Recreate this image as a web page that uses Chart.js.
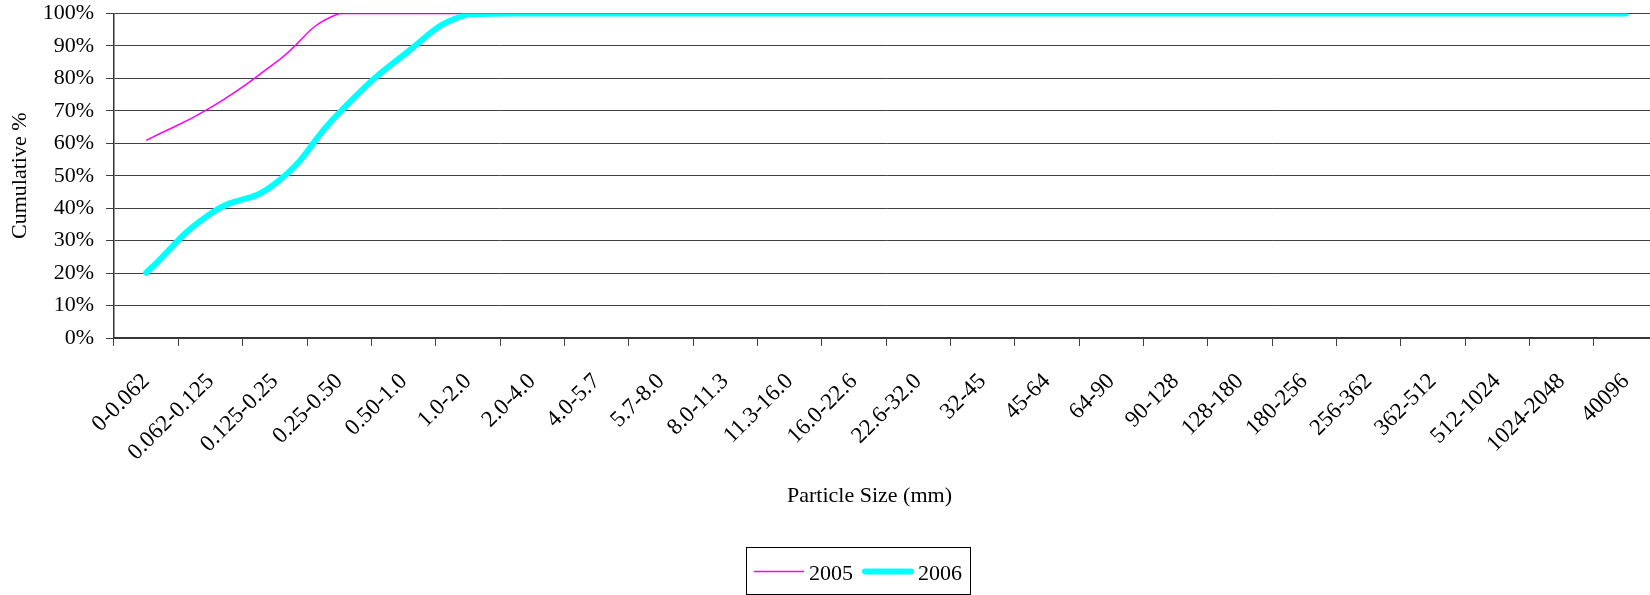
<!DOCTYPE html>
<html><head><meta charset="utf-8">
<script src="https://cdn.jsdelivr.net/npm/chart.js@4.4.1/dist/chart.umd.min.js"></script>
<style>
html,body{margin:0;padding:0;background:#fff;overflow:hidden;width:1650px;height:595px;}
#wrap{position:absolute;left:0;top:0;width:1658px;height:595px;}
</style></head><body>
<div id="wrap"><canvas id="c"></canvas></div>
<script>
const categories = ['0-0.062','0.062-0.125','0.125-0.25','0.25-0.50','0.50-1.0','1.0-2.0','2.0-4.0','4.0-5.7','5.7-8.0','8.0-11.3','11.3-16.0','16.0-22.6','22.6-32.0','32-45','45-64','64-90','90-128','128-180','180-256','256-362','362-512','512-1024','1024-2048','40096'];
const series2005 = [60.9, 71.0, 84.7, 100, 100, 100, 100, 100, 100, 100, 100, 100, 100, 100, 100, 100, 100, 100, 100, 100, 100, 100, 100, 100];
const series2006 = [20.1, 38.3, 47.5, 69.4, 87.2, 99.8, 100, 100, 100, 100, 100, 100, 100, 100, 100, 100, 100, 100, 100, 100, 100, 100, 100, 100];
const seriesNames = ['2005', '2006'];
const yTickLabels = ['0%','10%','20%','30%','40%','50%','60%','70%','80%','90%','100%'];
const xTitle = 'Particle Size (mm)';
const yTitle = 'Cumulative %';

const FONT = "'Liberation Serif', 'Times New Roman', serif";
Chart.defaults.font.family = FONT;
Chart.defaults.font.size = 22;
Chart.defaults.color = '#000';

const boxLegend = {
  id: 'boxLegend',
  afterDraw(chart) {
    const ctx = chart.ctx;
    ctx.save();
    ctx.strokeStyle = '#000';
    ctx.lineWidth = 1;
    ctx.strokeRect(746.5, 547.5, 224, 47);
    const items = [
      { x0: 754, x1: 804, tx: 809 },
      { x0: 865, x1: 911, tx: 918 }
    ];
    chart.data.datasets.forEach((ds, i) => {
      const it = items[i];
      ctx.beginPath();
      ctx.strokeStyle = ds.borderColor;
      ctx.lineWidth = ds.borderWidth;
      ctx.lineCap = ds.borderCapStyle || 'butt';
      ctx.moveTo(it.x0, 571.5);
      ctx.lineTo(it.x1, 571.5);
      ctx.stroke();
      ctx.fillStyle = '#000';
      ctx.font = '22px ' + FONT;
      ctx.textBaseline = 'alphabetic';
      ctx.textAlign = 'left';
      ctx.fillText(ds.label, it.tx, 580);
    });
    ctx.restore();
  }
};

new Chart(document.getElementById('c'), {
  type: 'line',
  data: {
    labels: categories,
    datasets: [
      { label: seriesNames[0], data: series2005, borderColor: '#FF00FF', backgroundColor: '#FF00FF', borderWidth: 1.5, tension: 0.5, pointRadius: 0, fill: false, clip: 0, order: 1 },
      { label: seriesNames[1], data: series2006, borderColor: '#00FFFF', backgroundColor: '#00FFFF', borderWidth: 6, tension: 0.5, pointRadius: 0, fill: false, clip: 0, order: 0, borderCapStyle: 'round', borderJoinStyle: 'round' }
    ]
  },
  options: {
    responsive: true,
    maintainAspectRatio: false,
    animation: false,
    layout: { padding: 0 },
    plugins: { legend: { display: false }, tooltip: { enabled: false } },
    scales: {
      x: {
        type: 'category',
        offset: true,
        grid: { display: true, drawOnChartArea: false, drawTicks: true, tickLength: 8, offset: true, color: '#404040', lineWidth: 1 },
        border: { display: true, color: '#333', width: 1.5 },
        ticks: { autoSkip: false, maxRotation: 45, minRotation: 45, padding: 22, color: '#000', font: { size: 23 } },
        title: { display: true, text: xTitle + '      ', padding: { top: 0, bottom: 86 }, font: { size: 22 }, color: '#000' },
        afterFit(scale) { scale.height = 257; scale.paddingRight = 0; }
      },
      y: {
        min: 0, max: 100,
        ticks: { stepSize: 10, autoSkip: false, maxTicksLimit: 11, padding: 12, color: '#000', font: { size: 22 }, callback: (v, i) => yTickLabels[i] },
        grid: { color: '#404040', lineWidth: 1, tickLength: 8, drawTicks: true },
        border: { display: true, color: '#333', width: 1.5 },
        title: { display: true, text: yTitle, padding: { top: 7, bottom: 10 }, font: { size: 22 }, color: '#000' },
        afterFit(scale) { scale.width = 114; scale.paddingTop = 13.5; scale.paddingBottom = 0; }
      }
    }
  },
  plugins: [boxLegend]
});
</script>
</body></html>
